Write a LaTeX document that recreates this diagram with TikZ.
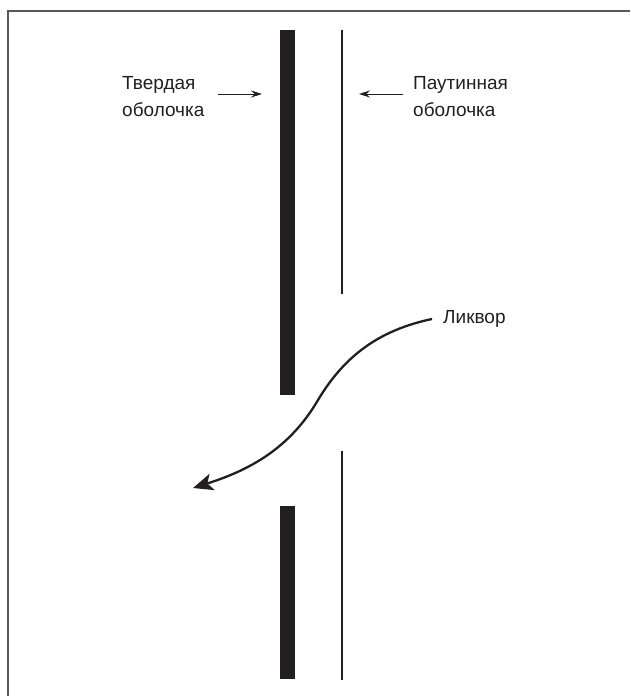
\documentclass[tikz,border=0pt]{standalone}
\usepackage{fontspec}
\setmainfont{Liberation Sans}
\usetikzlibrary{arrows.meta}
\definecolor{ink}{HTML}{231F20}
\definecolor{framegray}{HTML}{58585A}
\begin{document}
\begin{tikzpicture}[x=1pt,y=-1pt,
  lbl/.style={font=\fontsize{19}{27}\selectfont, inner sep=0pt, text=ink, anchor=base west},
  thickbar/.style={fill=ink, draw=none, inner sep=0pt, minimum width=15pt, anchor=north west},
  thinbar/.style={fill=ink, draw=none, inner sep=0pt, minimum width=2pt, anchor=north},
  pointer/.style={draw=ink, line width=1pt, -{Stealth[length=11pt,width=7pt]}},
  flow/.style={draw=ink, line width=2.3pt, -{Stealth[length=20pt,width=17pt,inset=5pt]}}]
\useasboundingbox (0,0) rectangle (630,696);

% open frame: top and left edges only
\draw[framegray, line width=1.5pt] (8,696) -- (8,11) -- (630,11);

% dura mater (thick) with a gap
\node[thickbar, minimum height=365pt] (duraTop) at (280,30) {};
\node[thickbar, minimum height=173pt] (duraBot) at (280,506) {};

% arachnoid (thin) with a gap
\node[thinbar, minimum height=264pt] (arachTop) at (342,30) {};
\node[thinbar, minimum height=229pt] (arachBot) at (342,451) {};

% labels
\node[lbl] (duraA) at (122,89) {Твердая};
\node[lbl] (duraB) at (122,116) {оболочка};
\node[lbl] (arachA) at (413,89) {Паутинная};
\node[lbl] (arachB) at (413,116) {оболочка};
\node[lbl] (csf) at (443,323) {Ликвор};

% pointers to the membranes
\coordinate (duraTail) at (218,94);
\coordinate (arachTail) at (403,94);
\draw[pointer, shorten >=18pt] (duraTail) -- (duraTop.west |- duraTail);
\draw[pointer, shorten >=17pt] (arachTail) -- (arachTop.north |- arachTail);

% CSF flow through the gap
\coordinate (flowStart) at (432,319);
\coordinate (flowMid) at (318,400);
\coordinate (flowEnd) at (193,488);
\draw[flow] (flowStart) .. controls (380,330) and (345,355) .. (flowMid)
  .. controls (290,448) and (250,470) .. (flowEnd);
\end{tikzpicture}
\end{document}
